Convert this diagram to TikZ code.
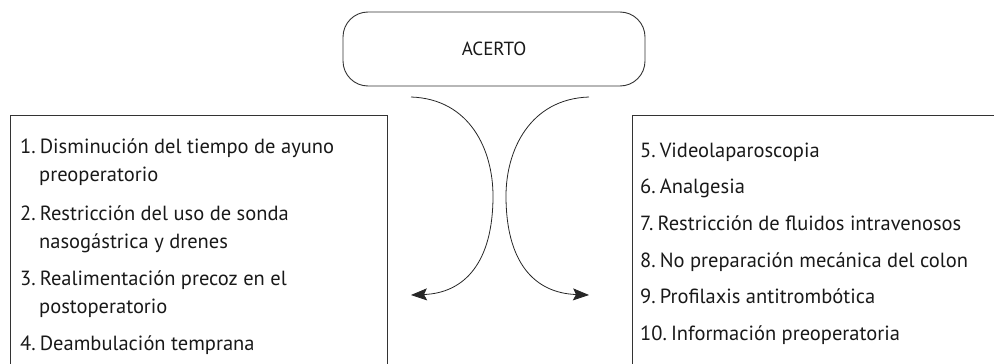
\documentclass[tikz,border=0pt]{standalone}
\usepackage{fontspec}
\setmainfont{PT Sans}
\usetikzlibrary{arrows.meta}
\begin{document}
\begin{tikzpicture}[x=1pt,y=-1pt,
  frame/.style={draw=black!80, line width=0.9pt},
  itemtxt/.style={anchor=base west, inner sep=0pt, font=\fontsize{20.5}{24}\selectfont, text=black!90},
  flow/.style={draw=black!85, line width=0.8pt, -{Stealth[length=16pt,width=12pt,inset=3pt]}}]
\useasboundingbox (0,0) rectangle (994,364);
\clip (0,0) rectangle (994,364);
\node[frame, rounded corners=25pt, minimum width=302pt, minimum height=74pt,
  font=\fontsize{19}{22}\selectfont, text=black!90] (acerto) at (494,49) {ACERTO};
\node[frame, anchor=north west, minimum width=377pt, minimum height=270pt] (left) at (10,115) {};
\node[frame, anchor=north west, minimum width=380pt, minimum height=270pt] (right) at (632,115) {};
% left items
\node[itemtxt] (l1a) at (20,153) {1.\hspace{0.2em}Disminución del tiempo de ayuno};
\node[itemtxt] (l1b) at (39,181) {preoperatorio};
\node[itemtxt] (l2a) at (20,220) {2.\hspace{0.2em}Restricción del uso de sonda};
\node[itemtxt] (l2b) at (39,248) {nasogástrica y drenes};
\node[itemtxt] (l3a) at (20,285) {3.\hspace{0.2em}Realimentación precoz en el};
\node[itemtxt] (l3b) at (39,313) {postoperatorio};
\node[itemtxt] (l4a) at (20,350) {4.\hspace{0.2em}Deambulación temprana};
% right items
\node[itemtxt] (r5) at (640,157) {5.\hspace{0.2em}Videolaparoscopia};
\node[itemtxt] (r6) at (640,193) {6.\hspace{0.2em}Analgesia};
\node[itemtxt] (r7) at (640,230) {7.\hspace{0.2em}Restricción de fluidos intravenosos};
\node[itemtxt] (r8) at (640,267) {8.\hspace{0.2em}No preparación mecánica del colon};
\node[itemtxt] (r9) at (640,303) {9.\hspace{0.2em}Profilaxis antitrombótica};
\node[itemtxt] (r10) at (640,340) {10.\hspace{0.2em}Información preoperatoria};
% arrows
\coordinate (la) at (411,97);
\coordinate (lb) at (411,295);
\coordinate (ra) at (589,97);
\coordinate (rb) at (589,295);
\draw[flow] (la) .. controls (470,99) and (493,150) .. (493,196) .. controls (493,262) and (465,293) .. (lb);
\draw[flow] (ra) .. controls (530,99) and (506,150) .. (506,196) .. controls (506,262) and (534,293) .. (rb);
\end{tikzpicture}
\end{document}
